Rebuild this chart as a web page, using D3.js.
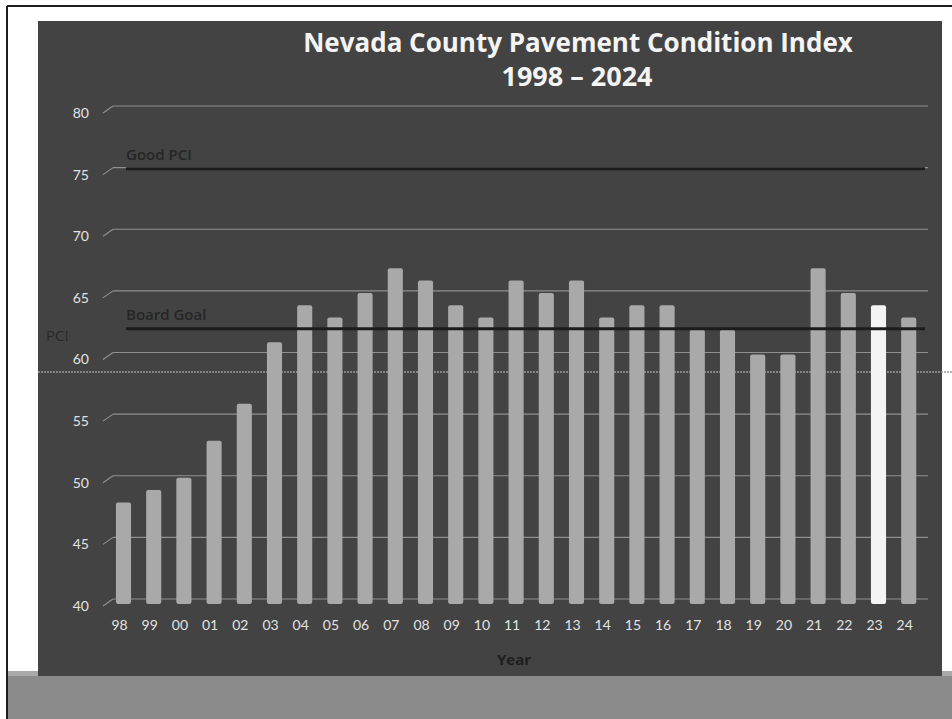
<!DOCTYPE html>
<html>
<head>
<meta charset="utf-8">
<script src="https://cdn.jsdelivr.net/npm/d3@7"></script>
<style>
  body { margin: 0; background: #fff; }
  text { font-family: Lato, "Open Sans", sans-serif; }
  .os { font-family: "Open Sans", Lato, sans-serif; }
</style>
</head>
<body>
<div id="chart"></div>
<script>
// data
const years = ["98","99","00","01","02","03","04","05","06","07","08","09","10","11","12","13","14","15","16","17","18","19","20","21","22","23","24"];
const pci = [48,49,50,53,56,61,64,63,65,67,66,64,63,66,65,66,63,64,64,62,62,60,60,67,65,64,63];
const yTicks = [40,45,50,55,60,65,70,75,80];
const goodPCI = 75;
const boardGoal = 62;
const highlightYear = "23";

const width = 952;
const height = 719;

const svg = d3.select("#chart").append("svg")
    .attr("width", width)
    .attr("height", height);

// page border + grey strip at the bottom of the scan
svg.append("rect").attr("x", 0).attr("y", 0).attr("width", width).attr("height", height).attr("fill", "#fff");
svg.append("rect").attr("x", 8).attr("y", 671).attr("width", width - 8).attr("height", 6).attr("fill", "#a9a9a9");
svg.append("rect").attr("x", 8).attr("y", 676).attr("width", width - 8).attr("height", 43).attr("fill", "#8b8b8b");
svg.append("line").attr("x1", 7).attr("x2", 7).attr("y1", 6).attr("y2", height)
    .attr("stroke", "#1e1e1e").attr("stroke-width", 2);
svg.append("line").attr("x1", 7).attr("x2", width).attr("y1", 6).attr("y2", 6)
    .attr("stroke", "#1e1e1e").attr("stroke-width", 2);

// dark slide panel
svg.append("rect")
    .attr("x", 38).attr("y", 21)
    .attr("width", 904).attr("height", 655)
    .attr("fill", "#434343");

// scales
const x = d3.scaleBand()
    .domain(years)
    .range([104.4, 919.8])
    .paddingInner(0.5)
    .paddingOuter(0.25);

const y = d3.scaleLinear()
    .domain([40, 80])
    .range([599, 106]);

// gridlines (back wall) with little slanted connectors to the labels
const grid = svg.append("g");
grid.selectAll(".grid")
    .data(yTicks)
    .enter()
    .append("line")
    .attr("x1", 113).attr("x2", 928)
    .attr("y1", d => y(d)).attr("y2", d => y(d))
    .attr("stroke", "#8f8f8f").attr("stroke-width", 1.2);
grid.selectAll(".conn")
    .data(yTicks)
    .enter()
    .append("line")
    .attr("x1", 103).attr("x2", 113)
    .attr("y1", d => y(d) + 7).attr("y2", d => y(d))
    .attr("stroke", "#8f8f8f").attr("stroke-width", 1.2);

const yAxis = svg.append("g")
    .attr("transform", "translate(89,7)")
    .call(d3.axisLeft(y).tickValues(yTicks).tickSize(0).tickPadding(0));
yAxis.select(".domain").remove();
yAxis.selectAll("text")
    .attr("fill", "#e2e2e2")
    .style("font-size", "14px");

// scan artefact: faint dotted line across the page
svg.append("line")
    .attr("x1", 38).attr("x2", width)
    .attr("y1", 372).attr("y2", 372)
    .attr("stroke", "#9a9a9a").attr("stroke-width", 1.5)
    .attr("stroke-dasharray", "2,1");

// bars
svg.selectAll(".bar")
    .data(years)
    .enter()
    .append("rect")
    .attr("class", "bar")
    .attr("x", d => x(d) + 4)
    .attr("y", (d, i) => y(pci[i]) + 2)
    .attr("width", x.bandwidth())
    .attr("height", (d, i) => y(40) + 5 - (y(pci[i]) + 2))
    .attr("rx", 2)
    .attr("fill", d => d === highlightYear ? "#f4f4f4" : "#a9a9a9");

// reference lines
const refs = [
  { label: "Good PCI", value: goodPCI },
  { label: "Board Goal", value: boardGoal }
];
svg.selectAll(".ref")
    .data(refs)
    .enter()
    .append("line")
    .attr("x1", 126).attr("x2", 925)
    .attr("y1", d => y(d.value) + 1).attr("y2", d => y(d.value) + 1)
    .attr("stroke", "#1c1c1c").attr("stroke-width", 3);
svg.selectAll(".refLabel")
    .data(refs)
    .enter()
    .append("text")
    .attr("class", "os")
    .attr("x", 126)
    .attr("y", d => y(d.value) - 8)
    .attr("fill", "#262626")
    .style("font-size", "15px")
    .style("font-weight", "600")
    .text(d => d.label);

// x axis labels
const xAxis = svg.append("g")
    .attr("transform", "translate(0,620)")
    .call(d3.axisBottom(x).tickSize(0).tickPadding(0));
xAxis.select(".domain").remove();
xAxis.selectAll("text")
    .attr("fill", "#e2e2e2")
    .style("font-size", "14px");

// titles
svg.append("text")
    .attr("class", "os")
    .attr("x", 578).attr("y", 52)
    .attr("text-anchor", "middle")
    .attr("fill", "#f4f4f4")
    .style("font-size", "26px")
    .style("font-weight", "bold")
    .text("Nevada County Pavement Condition Index");
svg.append("text")
    .attr("class", "os")
    .attr("x", 577).attr("y", 86)
    .attr("text-anchor", "middle")
    .attr("fill", "#f4f4f4")
    .style("font-size", "27px")
    .style("font-weight", "bold")
    .text("1998 \u2013 2024");

svg.append("text")
    .attr("class", "os")
    .attr("x", 514).attr("y", 665)
    .attr("text-anchor", "middle")
    .attr("fill", "#1e1e1e")
    .style("font-size", "15px")
    .style("font-weight", "bold")
    .text("Year");

svg.append("text")
    .attr("class", "os")
    .attr("x", 46).attr("y", 341)
    .attr("fill", "#2a2a2a")
    .style("font-size", "15px")
    .text("PCI");
</script>
</body>
</html>
